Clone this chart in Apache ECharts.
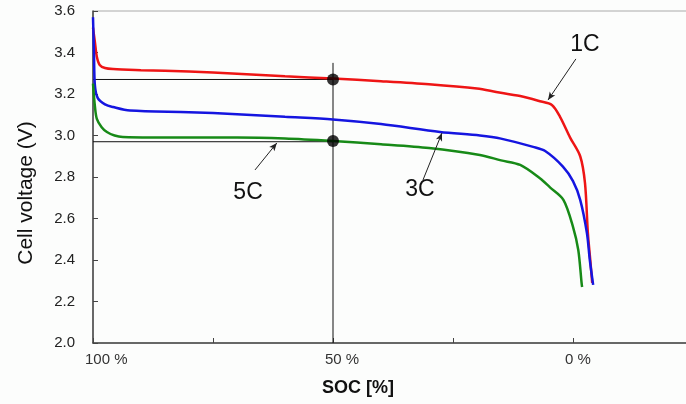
<!DOCTYPE html>
<html>
<head>
<meta charset="utf-8">
<script src="https://cdn.jsdelivr.net/npm/echarts@6/dist/echarts.min.js"></script>
<style>html,body{margin:0;padding:0;background:#fcfdfc;}#c{width:686px;height:404px;}</style>
</head>
<body>
<div id="c"></div>
<script>
// ---- data (SOC %, cell voltage V) ----
const xTickLabels = { 100: '100 %', 50: '50 %', 0: '0 %' };
const soc1C = [100, 99.6, 99.2, 98.6, 97.5, 95.8, 90, 80, 70, 60, 50, 40, 30, 20, 16, 11, 6.9, 4.4, 2.7, 0.6, -1.5, -2.5, -3.1, -3.6, -4.0];
const v1C   = [3.52, 3.45, 3.38, 3.34, 3.325, 3.32, 3.315, 3.308, 3.298, 3.285, 3.275, 3.262, 3.247, 3.226, 3.21, 3.19, 3.165, 3.147, 3.09, 2.99, 2.90, 2.77, 2.53, 2.40, 2.29];
const soc3C = [100, 99.8, 99.6, 99.0, 97.5, 95.8, 92.3, 80, 70, 60, 50, 40, 27.7, 19.4, 15, 8.3, 5.8, 2.1, 0, -1.5, -2.9, -3.5, -4.2];
const v3C   = [3.57, 3.40, 3.24, 3.18, 3.15, 3.137, 3.12, 3.112, 3.103, 3.09, 3.077, 3.055, 3.017, 3.0, 2.985, 2.945, 2.925, 2.85, 2.78, 2.69, 2.53, 2.40, 2.28];
const soc5C = [100, 99.6, 99.2, 98.2, 97.1, 95.5, 93.8, 80, 70, 60, 50, 40, 30, 19.4, 15, 11, 6.9, 4.8, 2.0, 0, -1.1, -1.8, -1.9];
const v5C   = [3.25, 3.14, 3.08, 3.04, 3.017, 3.0, 2.993, 2.99, 2.99, 2.985, 2.973, 2.958, 2.94, 2.906, 2.88, 2.858, 2.794, 2.75, 2.69, 2.56, 2.448, 2.287, 2.27];
// reference points at 50 % SOC
const markSoc = [50, 50];
const markV = [3.27, 2.973];
// reference guide lines
const guideH1 = [[100, 3.27], [50, 3.27]];
const guideH2 = [[100, 2.97], [50, 2.97]];
const guideV  = [[50, 2.0], [50, 3.35]];
// annotations: label position, arrow start, arrow tip
const annNames = ['1C', '3C', '5C'];
const annLabelPos = [[-2.5, 3.44], [31.9, 2.737], [67.7, 2.723]];
const annArrowFrom = [[-0.6, 3.369], [31.25, 2.786], [66.25, 2.834]];
const annArrowTo = [[5.2, 3.171], [27.3, 3.012], [61.7, 2.964]];

const zip = (a, b) => a.map((x, i) => [x, b[i]]);
const FONT = "'Liberation Sans', Arial, sans-serif";

const chart = echarts.init(document.getElementById('c'), null, { renderer: 'canvas' });

const guideSeries = (d) => ({
  type: 'line', data: d, symbol: 'none', silent: true, z: 1,
  lineStyle: { color: '#111', width: 1 }
});
const curve = (name, d, color) => ({
  type: 'line', name, data: d, symbol: 'none', smooth: 0.3,
  lineStyle: { color, width: 2.5 }, z: 3
});

chart.setOption({
  backgroundColor: '#fcfdfc',
  animation: false,
  grid: { left: 93, top: 11, width: 600, height: 332, outerBoundsMode: 'none', show: true, borderColor: '#aaaaaa', borderWidth: 1, backgroundColor: 'transparent' },
  xAxis: {
    type: 'value', inverse: true, min: -25, max: 100, interval: 25,
    axisLine: { show: true, onZero: false, lineStyle: { color: '#444', width: 1.5 } },
    axisTick: { show: true, inside: true, length: 5, lineStyle: { color: '#444' } },
    splitLine: { show: false },
    axisLabel: {
      margin: 9, fontFamily: FONT, fontSize: 15, color: '#333', align: 'left',
      padding: [0, 0, 0, -8],
      formatter: v => xTickLabels[v] || ''
    }
  },
  yAxis: {
    type: 'value', min: 2.0, max: 3.6, interval: 0.2,
    axisLine: { show: true, onZero: false, lineStyle: { color: '#444', width: 1.5 } },
    axisTick: { show: true, inside: true, length: 5, lineStyle: { color: '#444' } },
    splitLine: { show: false },
    axisLabel: { margin: 18, fontFamily: FONT, fontSize: 15, color: '#222', formatter: v => v.toFixed(1) }
  },
  graphic: [
    { type: 'text', x: 26, y: 193, rotation: Math.PI / 2, style: { text: 'Cell voltage (V)', font: "21px " + FONT, fill: '#111', align: 'center', verticalAlign: 'middle' } },
    { type: 'text', x: 358, y: 388, style: { text: 'SOC [%]', font: "bold 18px " + FONT, fill: '#111', align: 'center', verticalAlign: 'middle' } }
  ],
  series: [
    guideSeries(guideH1), guideSeries(guideH2), guideSeries(guideV),
    curve('1C', zip(soc1C, v1C), '#ee1515'),
    curve('3C', zip(soc3C, v3C), '#1515e0'),
    curve('5C', zip(soc5C, v5C), '#178a17'),
    { type: 'scatter', data: zip(markSoc, markV), symbol: 'circle', symbolSize: 12, itemStyle: { color: '#000' }, z: 5 },
    {
      type: 'scatter', symbolSize: 1, itemStyle: { opacity: 0 }, z: 6,
      data: annNames.map((n, i) => ({ name: n, value: annLabelPos[i] })),
      label: { show: true, position: 'inside', formatter: p => p.name, fontFamily: FONT, fontSize: 23, color: '#111', textBorderWidth: 0, opacity: 1 },
      markLine: {
        silent: true, symbol: ['none', 'arrow'], symbolSize: [5, 8],
        lineStyle: { color: '#222', width: 1, type: 'solid' }, label: { show: false },
        data: annNames.map((n, i) => [{ coord: annArrowFrom[i] }, { coord: annArrowTo[i] }])
      }
    }
  ]
});
</script>
</body>
</html>
